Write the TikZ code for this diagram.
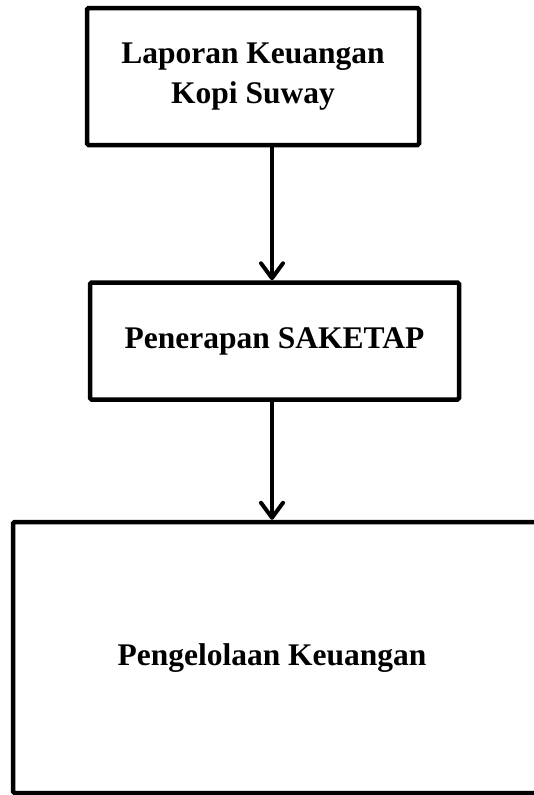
\documentclass[tikz,border=0pt]{standalone}
\usepackage{fontspec}
\setmainfont{Liberation Serif}
\usetikzlibrary{arrows.meta}
\begin{document}
\begin{tikzpicture}[x=1pt,y=1pt,
  box/.style={draw=black,line width=4.5pt,rounded corners=1.5pt,fill=white,inner sep=0pt,
    font=\fontsize{31.5}{40}\selectfont\bfseries,align=center},
  flow/.style={line width=4pt,-{Straight Barb[length=15pt,width=22pt,round]}}]
\useasboundingbox (0,0) rectangle (533,-795);
\node[box,minimum width=332pt,minimum height=137pt] (lap) at (253,-76.5) {Laporan Keuangan\\Kopi Suway};
\node[box,minimum width=369pt,minimum height=117pt] (pen) at (274.5,-341) {Penerapan SAKETAP};
\node[box,minimum width=526pt,minimum height=271pt] (pkl) at (276,-657.5) {};
\node[font=\fontsize{31.5}{40}\selectfont\bfseries] (pkltext) at (272,-658) {Pengelolaan Keuangan};
\coordinate (ax) at (272,0);
\draw[flow] (lap.south -| ax) -- (pen.north -| ax);
\draw[flow] (pen.south -| ax) -- (pkl.north -| ax);
\end{tikzpicture}
\end{document}
